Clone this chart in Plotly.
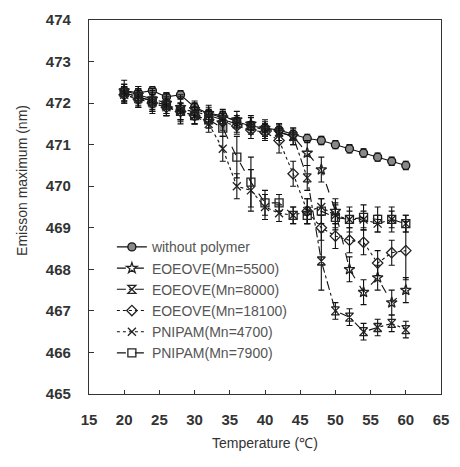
import plotly.graph_objects as go

temps = [20, 22, 24, 26, 28, 30, 32, 34, 36, 38, 40, 42, 44, 46, 48, 50, 52, 54, 56, 58, 60]

no_polymer = [472.3, 472.25, 472.3, 472.15, 472.2, 471.9, 471.75, 471.7, 471.55, 471.45, 471.4,
              471.35, 471.25, 471.15, 471.1, 471.0, 470.9, 470.8, 470.7, 470.6, 470.5]
eoeove_5500 = [472.3, 472.2, 472.1, 472.0, 471.9, 471.85, 471.75, 471.65, 471.6, 471.5, 471.4,
               471.3, 471.2, 470.8, 470.4, 469.4, 468.0, 467.45, 467.8, 467.2, 467.5]
eoeove_8000 = [472.25, 472.15, 472.05, 471.95, 471.85, 471.8, 471.7, 471.6, 471.5, 471.45, 471.35,
               471.3, 471.2, 470.2, 468.2, 467.0, 466.85, 466.5, 466.6, 466.7, 466.55]
eoeove_18100 = [472.2, 472.1, 472.0, 471.9, 471.8, 471.7, 471.6, 471.55, 471.45, 471.35, 471.3,
                471.1, 470.3, 469.4, 469.0, 468.8, 468.7, 468.65, 468.15, 468.4, 468.45]
pnipam_4700 = [472.2, 472.1, 472.0, 471.9, 471.8, 471.7, 471.5, 470.9, 470.0, 469.9, 469.5,
               469.35, 469.3, 469.4, 469.5, 469.3, 469.2, 469.2, 469.1, 469.2, 469.1]
pnipam_7900 = [472.25, 472.15, 472.05, 471.95, 471.8, 471.7, 471.6, 471.4, 470.7, 470.1, 469.6,
               469.6, 469.3, 469.3, 469.4, 469.25, 469.2, 469.25, 469.2, 469.2, 469.1]

err_no = [0.1] * 21
err_5500 = [0.25, 0.2, 0.2, 0.25, 0.3, 0.2, 0.2, 0.2, 0.2, 0.2, 0.2,
            0.2, 0.2, 0.3, 0.3, 0.3, 0.3, 0.3, 0.3, 0.3, 0.3]
err_8000 = [0.2, 0.25, 0.3, 0.25, 0.3, 0.2, 0.2, 0.2, 0.2, 0.2, 0.2,
            0.2, 0.2, 0.3, 0.7, 0.2, 0.2, 0.2, 0.2, 0.2, 0.2]
err_18100 = [0.2, 0.2, 0.2, 0.2, 0.3, 0.2, 0.2, 0.2, 0.2, 0.2, 0.2,
             0.3, 0.3, 0.3, 0.3, 0.3, 0.3, 0.3, 0.3, 0.3, 0.7]
err_4700 = [0.2, 0.2, 0.2, 0.2, 0.2, 0.2, 0.2, 0.3, 0.3, 0.5, 0.3,
            0.2, 0.2, 0.3, 0.2, 0.3, 0.2, 0.2, 0.2, 0.2, 0.2]
err_7900 = [0.2, 0.2, 0.2, 0.2, 0.2, 0.2, 0.2, 0.2, 0.5, 0.6, 0.3,
            0.2, 0.2, 0.2, 0.3, 0.3, 0.3, 0.3, 0.3, 0.3, 0.2]

names = ["without polymer", "EOEOVE(Mn=5500)", "EOEOVE(Mn=8000)", "EOEOVE(Mn=18100)",
         "PNIPAM(Mn=4700)", "PNIPAM(Mn=7900)"]
series = [no_polymer, eoeove_5500, eoeove_8000, eoeove_18100, pnipam_4700, pnipam_7900]
errors = [err_no, err_5500, err_8000, err_18100, err_4700, err_7900]
dashes = ["solid", "dash", "dashdot", "dot", "dot", "dash"]
symbols = ["circle", "star-open", "hourglass-open", "diamond-open", "x-thin-open", "square-open"]
mcolors = ["#888888", "#222222", "#222222", "#222222", "#222222", "#222222"]

fig = go.Figure()
for name, y, e, d, s, mc in zip(names, series, errors, dashes, symbols, mcolors):
    fig.add_trace(go.Scatter(
        x=temps, y=y, name=name, mode="lines+markers",
        line=dict(color="#111111", width=1.1, dash=d),
        marker=dict(symbol=s, size=8, color=mc, line=dict(color="#111111", width=1.3)),
        error_y=dict(type="data", array=e, visible=True, color="#111111", thickness=1.1, width=3),
    ))

axis_font = dict(family="Liberation Sans", size=15, color="#333333", weight="bold")
fig.update_layout(
    width=460, height=467,
    margin=dict(l=89, r=11, t=20, b=73),
    paper_bgcolor="white", plot_bgcolor="white",
    showlegend=True,
    legend=dict(x=0.065, y=0.435, xanchor="left", yanchor="top",
                font=dict(family="Liberation Sans", size=14, color="#555555"),
                bgcolor="rgba(0,0,0,0)", itemwidth=30, tracegroupgap=0),
    xaxis=dict(range=[15, 65], tickvals=[15, 20, 25, 30, 35, 40, 45, 50, 55, 60, 65],
               ticks="inside", ticklen=4, tickcolor="#333", showgrid=False, zeroline=False,
               showline=True, linecolor="#333333", linewidth=1.2, mirror=True,
               tickfont=axis_font, ticklabelstandoff=12),
    yaxis=dict(range=[465, 474], dtick=1, ticks="inside", ticklen=5, tickcolor="#333",
               showgrid=False, zeroline=False, showline=True, linecolor="#333333",
               linewidth=1.2, mirror=True, tickfont=axis_font, ticklabelstandoff=14),
    annotations=[
        dict(text="Temperature (℃)", xref="paper", yref="paper", x=0.5, y=-0.13,
             xanchor="center", yanchor="middle", showarrow=False,
             font=dict(family="Liberation Sans", size=14, color="#333333")),
        dict(text="Emisson maximum (nm)", xref="paper", yref="paper", x=-0.19, y=0.57,
             xanchor="center", yanchor="middle", showarrow=False, textangle=-90,
             font=dict(family="Liberation Sans", size=14, color="#333333")),
    ],
)

fig.write_html("out.html")
